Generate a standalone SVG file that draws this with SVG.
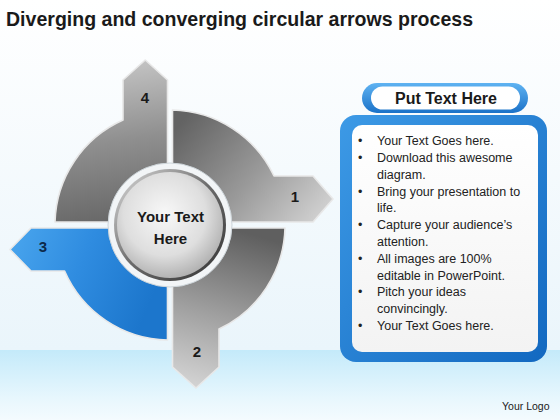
<svg xmlns="http://www.w3.org/2000/svg" width="560" height="420" viewBox="0 0 560 420">
<defs>
<style>
.t{font-family:"Liberation Sans",Arial,sans-serif;fill:#1a1a1a}
.b{font-weight:bold}
.num{font-family:"Liberation Sans",Arial,sans-serif;font-weight:bold;font-size:15px;fill:#1a1a1a;text-anchor:middle}
.body{font-family:"Liberation Sans",Arial,sans-serif;font-size:12.5px;fill:#222}
.seg{stroke:#e8e8e8;stroke-width:1.6;stroke-linejoin:round}
</style>
<linearGradient id="bg" x1="0" y1="0" x2="0" y2="1">
<stop offset="0" stop-color="#ffffff"/><stop offset="1" stop-color="#eaf5fb"/>
</linearGradient>
<linearGradient id="band" x1="0" y1="0" x2="0" y2="1">
<stop offset="0" stop-color="#c4eafa"/><stop offset="0.7" stop-color="#e8f7fd"/><stop offset="1" stop-color="#f4fbfe"/>
</linearGradient>
<linearGradient id="g4" x1="0.6" y1="1" x2="0.5" y2="0">
<stop offset="0" stop-color="#676767"/><stop offset="0.5" stop-color="#8f8f8f"/><stop offset="1" stop-color="#c6c6c6"/>
</linearGradient>
<linearGradient id="g1" x1="0" y1="0.2" x2="1" y2="0.8">
<stop offset="0" stop-color="#636363"/><stop offset="0.55" stop-color="#9a9a9a"/><stop offset="1" stop-color="#cfcfcf"/>
</linearGradient>
<linearGradient id="g2" x1="0.5" y1="0" x2="0.3" y2="1">
<stop offset="0" stop-color="#5f5f5f"/><stop offset="0.55" stop-color="#a0a0a0"/><stop offset="1" stop-color="#d2d2d2"/>
</linearGradient>
<linearGradient id="g3" x1="0" y1="0" x2="1" y2="0.3">
<stop offset="0" stop-color="#4aa6ee"/><stop offset="0.5" stop-color="#2f8ce0"/><stop offset="1" stop-color="#1c76cc"/>
</linearGradient>
<radialGradient id="disc" cx="0.45" cy="0.4" r="0.65">
<stop offset="0" stop-color="#f8f8f8"/><stop offset="0.6" stop-color="#dedede"/><stop offset="1" stop-color="#a9a9a9"/>
</radialGradient>
<linearGradient id="ring" x1="0" y1="0" x2="1" y2="1">
<stop offset="0" stop-color="#e0e0e0"/><stop offset="0.5" stop-color="#6a6a6a"/><stop offset="1" stop-color="#333333"/>
</linearGradient>
<linearGradient id="blue" x1="0" y1="0" x2="1" y2="1">
<stop offset="0" stop-color="#3d9ae6"/><stop offset="1" stop-color="#1268c0"/>
</linearGradient>
<linearGradient id="pill" x1="0" y1="0" x2="0" y2="1">
<stop offset="0" stop-color="#5fb3f2"/><stop offset="1" stop-color="#1b72c8"/>
</linearGradient>
<linearGradient id="paper" x1="0" y1="0" x2="0" y2="1">
<stop offset="0" stop-color="#ffffff"/><stop offset="1" stop-color="#f3f3f3"/>
</linearGradient>
</defs>
<rect x="0" y="0" width="560" height="350" fill="url(#bg)"/>
<rect x="0" y="350" width="560" height="70" fill="url(#band)"/>
<text class="t b" x="6" y="26" font-size="21" textLength="467" lengthAdjust="spacingAndGlyphs">Diverging and converging circular arrows process</text>
<g id="connectors"></g>
<g id="step4">
<path class="seg" fill="url(#g4)" d="M55,222 A115,115 0 0 1 123,120 L123,80 L145.25,60 L167.5,80 L167.5,222 Z"/>
<text class="num" x="145" y="103">4</text>
</g>
<g id="step1">
<path class="seg" fill="url(#g1)" d="M172.5,110 A115,115 0 0 1 274,176 L313,176 L333,199 L313,222 L172.5,222 Z"/>
<text class="num" x="295" y="202">1</text>
</g>
<g id="step2">
<path class="seg" fill="url(#g2)" d="M172.5,228 L285,228 A115,115 0 0 1 219,329 L219,367 L196,388 L172.5,367 Z"/>
<text class="num" x="197" y="357">2</text>
</g>
<g id="step3">
<path class="seg" fill="url(#g3)" d="M167.5,228 L167.5,340 A115,115 0 0 1 64.6,271 L31,271 L10,249.5 L31,228 Z"/>
<text class="num" x="43" y="252" style="fill:#0d2a4a">3</text>
</g>
<g id="center">
<circle cx="170" cy="225" r="62" fill="#f2f5f7" stroke="#cdd5da" stroke-width="1"/>
<circle cx="170" cy="225" r="56" fill="url(#ring)"/>
<circle cx="170" cy="225" r="53" fill="url(#disc)"/>
<text class="t b" x="170.5" y="222" font-size="15" text-anchor="middle">Your Text</text>
<text class="t b" x="170.5" y="244" font-size="15" text-anchor="middle">Here</text>
</g>
<g id="title-box">
<rect x="362" y="83" width="166" height="30" rx="15" fill="url(#pill)"/>
<rect x="371" y="86.5" width="149" height="23" rx="11.5" fill="#ffffff"/>
<text class="t b" x="446" y="104" font-size="16" text-anchor="middle">Put Text Here</text>
</g>
<g id="text-box">
<rect x="340" y="115" width="207" height="247" rx="16" fill="url(#blue)"/>
<rect x="352" y="125" width="186" height="227" rx="10" fill="url(#paper)"/>
<g class="body">
<text x="358" y="145.2">•</text><text x="377" y="145.2">Your Text Goes here.</text>
<text x="358" y="162">•</text><text x="377" y="162">Download this awesome</text>
<text x="377" y="178.8">diagram.</text>
<text x="358" y="195.6">•</text><text x="377" y="195.6">Bring your presentation to</text>
<text x="377" y="212.4">life.</text>
<text x="358" y="229.2">•</text><text x="377" y="229.2">Capture your audience’s</text>
<text x="377" y="246">attention.</text>
<text x="358" y="262.8">•</text><text x="377" y="262.8">All images are 100%</text>
<text x="377" y="279.6">editable in PowerPoint.</text>
<text x="358" y="296.4">•</text><text x="377" y="296.4">Pitch your ideas</text>
<text x="377" y="313.2">convincingly.</text>
<text x="358" y="330">•</text><text x="377" y="330">Your Text Goes here.</text>
</g>
</g>
<text class="t" x="502" y="410" font-size="10.5" fill="#333">Your Logo</text>
</svg>
